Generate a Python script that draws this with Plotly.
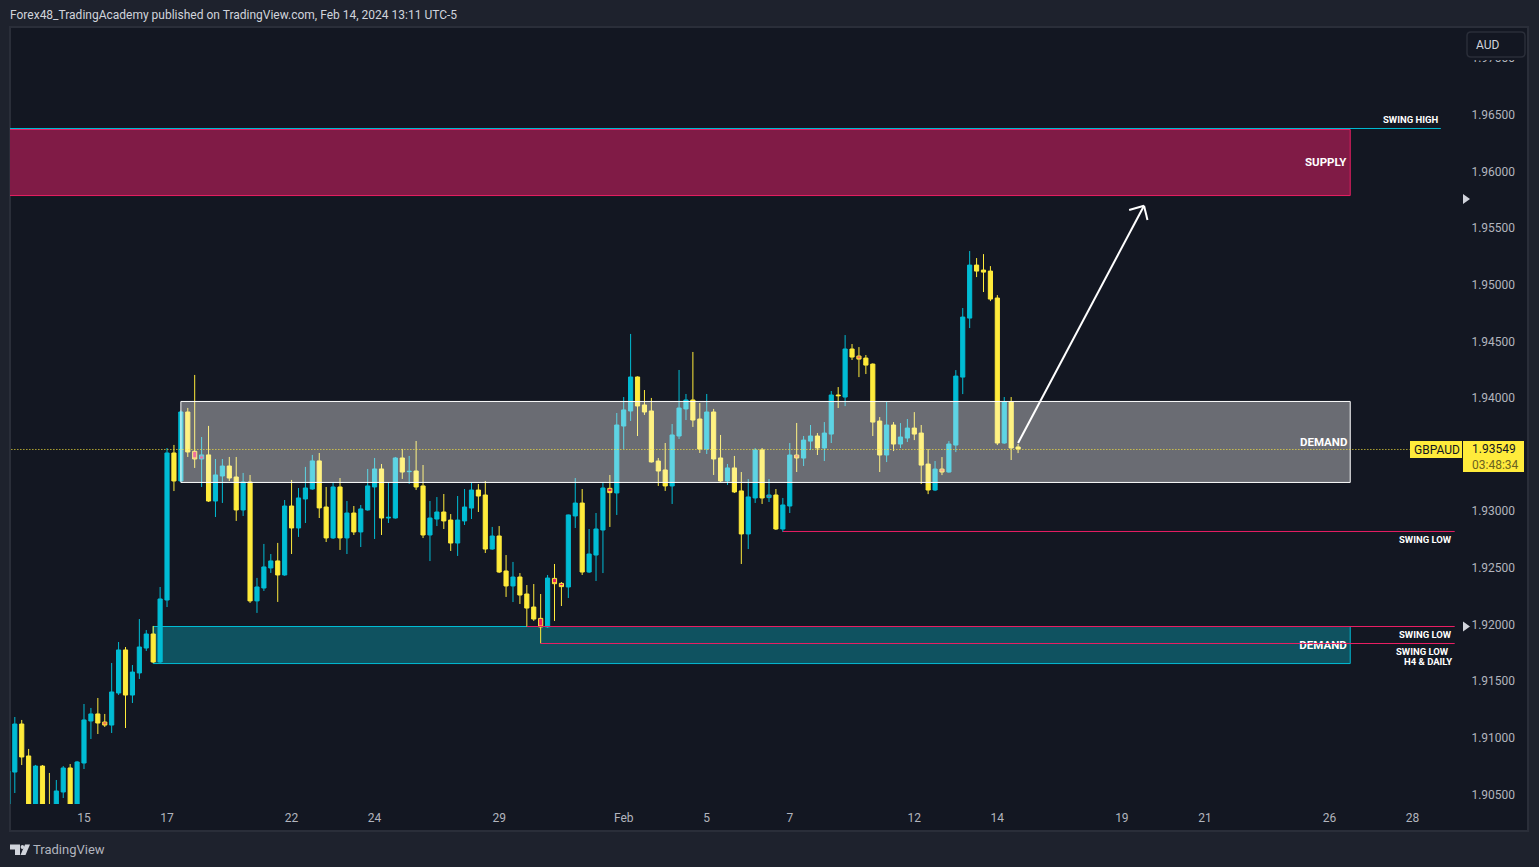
import plotly.graph_objects as go

# Prices in points (1e-5)
opens = [190200,190697,191121,190839,190333,190750,190391,190333,190521,190733,
         190333,190777,191148,191210,191139,191112,191395,191775,191377,191572,
         191792,191916,191669,192216,193514,193267,193876,193529,193461,193497,
         193090,193311,193399,193302,193011,193258,192208,192322,192499,192561,
         192437,193046,192852,193108,193196,193444,193037,192764,193214,192764,
         192984,192817,193011,193214,193373,192940,192940,193470,193349,193355,
         193223,192790,192931,192993,192922,192719,192914,193028,193187,193143,
         192666,192781,192472,192340,192419,192269,192154,192054,191978,192407,
         192363,192331,192958,193072,192463,192613,192834,193202,193161,193752,
         193885,194185,193938,193885,193443,193364,193223,193664,193903,193982,
         193814,193549,193876,193470,193267,193382,193179,192799,193117,193541,
         193120,193143,192843,193046,193496,193469,193619,193664,193558,193681,
         194026,194008,194432,194370,194352,194299,193796,193496,193761,193593,
         193646,193734,193690,193416,193187,193372,193346,193584,194184,194705,
         195173,195129,195120,194882,193602,193964,193567]
highs = [190720,191183,191157,190901,190760,190759,190689,190627,190750,190768,
         190795,191298,191263,191351,191210,191660,191845,191801,191642,192048,
         191951,191987,192331,193558,193585,193890,193912,194203,193655,193753,
         193461,193461,193479,193479,193338,193320,192411,192711,192622,192720,
         193099,193276,193205,193391,193497,193514,193214,193258,193293,193090,
         193046,193055,193373,193470,193417,193258,193479,193550,193488,193620,
         193408,193090,193125,193152,192975,193134,193196,193255,193240,193267,
         192861,192869,192613,192552,192454,192348,192357,192269,192437,192534,
         192375,192970,193293,193196,192843,192984,193255,193320,193867,194008,
         194565,194190,194070,194000,193470,193602,193770,194247,194035,194406,
         193955,194035,193903,193673,193417,193488,193346,193284,193558,193558,
         193284,193196,193117,193602,193779,193664,193761,193690,193787,194061,
         194096,194555,194476,194449,194379,194305,193831,193964,193787,193778,
         193814,193875,193761,193549,193443,193478,193619,194246,194794,195297,
         195235,195270,195164,194908,194008,194008,193593]
lows = [190100,190512,190759,190300,190300,190300,190200,190300,190468,190300,
        190300,190724,190989,191033,191095,191042,191377,191086,191307,191519,
        191766,191660,191660,192154,193178,193260,193479,193382,193214,193082,
        192949,193073,193267,192914,192958,192190,192102,192296,192455,192199,
        192430,192622,192773,192896,193190,192940,192728,192755,192658,192622,
        192790,192684,193005,192755,192790,192896,192935,193285,193241,193188,
        192763,192560,192869,192843,192649,192605,192878,192931,192993,192631,
        192660,192454,192243,192198,192181,191981,192031,191833,191970,192031,
        192163,192234,192852,192437,192454,192384,192454,192861,192967,193549,
        193797,193664,193850,193430,193223,193179,193064,193638,193805,193744,
        193514,193505,193320,193258,193232,193161,192534,192666,193073,193064,
        193081,192834,192817,192984,193346,193399,193540,193496,193443,193602,
        193911,193928,194335,194184,194211,193664,193346,193434,193531,193558,
        193611,193628,193240,193151,193178,193319,193340,193522,194034,194617,
        195067,194935,194855,193584,193595,193452,193513]
closes = [190706,191121,190830,190333,190750,190333,190250,190530,190733,190333,
          190786,191157,191210,191130,191112,191404,191775,191377,191580,191801,
          191916,191669,192225,193514,193267,193876,193523,193461,193497,193090,
          193320,193399,193293,193011,193258,192208,192331,192508,192561,192437,
          193046,192852,193117,193205,193444,193029,192764,193214,192764,192984,
          192817,193020,193223,193373,192940,192946,193470,193346,193352,193214,
          192790,192940,192993,192914,192719,192922,193037,193187,193134,192666,
          192781,192463,192340,192419,192260,192145,192048,191978,192410,192360,
          192334,192967,193072,192463,192622,192843,193205,193164,193761,193894,
          194185,193929,193876,193435,193355,193223,193673,193911,193982,193805,
          193549,193876,193461,193267,193382,193170,192799,193126,193541,193117,
          193143,192843,193055,193496,193470,193628,193664,193558,193690,194026,
          194020,194432,194361,194343,194290,193787,193496,193761,193593,193655,
          193734,193681,193407,193187,193372,193346,193593,194193,194714,195173,
          195120,195111,194873,193602,193964,193558,193549]
pink_candles = [15,28,29,78,80,81,88,111,115,124,136]

tick_pos = [12,24,42,54,72,90,102,114,132,144,162,174,192,204]
tick_text = ["15","17","22","24","29","Feb","5","7","12","14","19","21","26","28"]
price_ticks = [1.905,1.91,1.915,1.92,1.925,1.93,1.94,1.945,1.95,1.955,1.96,1.965,1.97]

supply_zone = [1.95787, 1.96370]
grey_zone = [1.93254, 1.93969]
teal_zone = [1.91655, 1.91982]
zone_end = 195
last_price_line = 1.93545
swing_high = 1.96379
swing_low_levels = [1.91982, 1.91832, 1.92821]
swing_low_starts = [76, 78, 113]
arrow_x = [147.0, 165.2]
arrow_y = [1.93602, 1.95697]
arrow_barb_x = [163.05, 165.7]
arrow_barb_y = [1.95659, 1.95571]

CYAN, YELLOW, PINK = "#00bcd4", "#ffeb3b", "#e91e63"
PANEL, OUTER, EDGE = "#131722", "#1e222d", "#2a2e39"
W, H = 1539, 867
L, R, T, B = 10, 1463, 27, 804
FONT = "Roboto"

def fx(p): return (p - L) / (R - L)
def fy(p): return (B - p) / (B - T)

n = range(1, len(opens) + 1)
plain = [i for i in n if i not in pink_candles]
def col(src, idx): return [src[i - 1] / 1e5 for i in idx]

fig = go.Figure()
fig.add_trace(go.Candlestick(
    x=plain, open=col(opens, plain), high=col(highs, plain), low=col(lows, plain), close=col(closes, plain),
    increasing=dict(line=dict(color=CYAN, width=1), fillcolor=CYAN),
    decreasing=dict(line=dict(color=YELLOW, width=1), fillcolor=YELLOW), showlegend=False))
fig.add_trace(go.Candlestick(
    x=pink_candles, open=col(opens, pink_candles), high=col(highs, pink_candles), low=col(lows, pink_candles), close=col(closes, pink_candles),
    increasing=dict(line=dict(color=CYAN, width=1), fillcolor=PINK),
    decreasing=dict(line=dict(color=YELLOW, width=1), fillcolor=PINK), showlegend=False))
# second DEMAND label sits under the swing-low line
fig.add_trace(go.Scatter(x=[194.5], y=[1.91811], mode="text", text=["<b>DEMAND</b>"], textposition="middle left",
                         textfont=dict(family=FONT, size=11.5, color="#ffffff"), showlegend=False, hoverinfo="skip"))

shapes = []
def paper_rect(x0, y0, x1, y1, fill, line=None, layer="below", width=1):
    shapes.append(dict(type="rect", xref="paper", yref="paper", x0=fx(x0), x1=fx(x1), y0=fy(y1), y1=fy(y0),
                       fillcolor=fill, line=dict(color=line or fill, width=width if line else 0), layer=layer))

# frame
paper_rect(10, 27, 1528, 831, PANEL, EDGE, width=2)

# zones
shapes.append(dict(type="rect", x0=22, x1=zone_end, y0=teal_zone[0], y1=teal_zone[1], fillcolor="#0f5260",
                   line=dict(color=CYAN, width=1), layer="below"))
shapes.append(dict(type="rect", x0=-5, x1=zone_end, y0=supply_zone[0], y1=supply_zone[1], fillcolor="#801b46",
                   line=dict(color=PINK, width=1), layer="below"))
shapes.append(dict(type="rect", x0=26, x1=zone_end, y0=grey_zone[0], y1=grey_zone[1], fillcolor="rgba(255,255,255,0.37)",
                   line=dict(color="#ffffff", width=1), layer="above"))

# levels
shapes.append(dict(type="line", x0=-5, x1=208.1, y0=swing_high, y1=swing_high, line=dict(color=CYAN, width=1), layer="above"))
for lvl, st in zip(swing_low_levels, swing_low_starts):
    shapes.append(dict(type="line", x0=st, x1=210.1, y0=lvl, y1=lvl, line=dict(color=PINK, width=1), layer="above"))
shapes.append(dict(type="line", x0=-5, x1=203.6, y0=last_price_line, y1=last_price_line,
                   line=dict(color=YELLOW, width=1, dash="1px,2px"), layer="above"))

# arrow
shapes.append(dict(type="line", x0=arrow_x[0], x1=arrow_x[1], y0=arrow_y[0], y1=arrow_y[1],
                   line=dict(color="#ffffff", width=2), layer="above"))
for bx, by in zip(arrow_barb_x, arrow_barb_y):
    shapes.append(dict(type="line", x0=bx, x1=arrow_x[1], y0=by, y1=arrow_y[1], line=dict(color="#ffffff", width=2), layer="above"))

# price labels and button
paper_rect(1410, 441, 1462, 458, YELLOW, layer="above")
paper_rect(1463, 441, 1524, 472, YELLOW, layer="above")
paper_rect(1464, 28, 1527, 60, PANEL, layer="above")
r = 4
bx0, bx1, by0, by1 = 1467, 1525, 32, 57
shapes.append(dict(type="path", xref="paper", yref="paper",
    path=(f"M{fx(bx0+r)},{fy(by0)} L{fx(bx1-r)},{fy(by0)} Q{fx(bx1)},{fy(by0)} {fx(bx1)},{fy(by0+r)} "
          f"L{fx(bx1)},{fy(by1-r)} Q{fx(bx1)},{fy(by1)} {fx(bx1-r)},{fy(by1)} "
          f"L{fx(bx0+r)},{fy(by1)} Q{fx(bx0)},{fy(by1)} {fx(bx0)},{fy(by1-r)} "
          f"L{fx(bx0)},{fy(by0+r)} Q{fx(bx0)},{fy(by0)} {fx(bx0+r)},{fy(by0)} Z"),
    fillcolor=PANEL, line=dict(color=EDGE, width=1.5), layer="above"))

# price-axis triangles
for cy in (199, 626.5):
    shapes.append(dict(type="path", xref="paper", yref="paper",
                       path=f"M{fx(1463)},{fy(cy-5)} L{fx(1470)},{fy(cy)} L{fx(1463)},{fy(cy+5)} Z",
                       fillcolor="#d1d4dc", line=dict(width=0), layer="above"))

# logo
shapes.append(dict(type="path", xref="paper", yref="paper",
                   path=f"M{fx(10)},{fy(844.5)} L{fx(20)},{fy(844.5)} L{fx(20)},{fy(855)} L{fx(15)},{fy(855)} L{fx(15)},{fy(849.5)} L{fx(10)},{fy(849.5)} Z",
                   fillcolor="#d1d4dc", line=dict(width=0), layer="above"))
shapes.append(dict(type="circle", xref="paper", yref="paper", x0=fx(20.6), x1=fx(24.2), y0=fy(849), y1=fy(845),
                   fillcolor="#d1d4dc", line=dict(width=0), layer="above"))
shapes.append(dict(type="path", xref="paper", yref="paper",
                   path=f"M{fx(25)},{fy(844.5)} L{fx(30)},{fy(844.5)} L{fx(25.5)},{fy(855)} L{fx(20.5)},{fy(855)} Z",
                   fillcolor="#d1d4dc", line=dict(width=0), layer="above"))

anns = []
def label(text, x, y, size=10, color="#ffffff", anchor="right", bold=True):
    anns.append(dict(text=f"<b>{text}</b>" if bold else text, xref="paper", yref="paper", x=fx(x), y=fy(y),
                     xanchor=anchor, yanchor="middle", showarrow=False, align="left" if anchor == "left" else "right",
                     font=dict(family=FONT, size=size, color=color), borderpad=0, borderwidth=0))

label("SUPPLY", 1346.5, 161.5, 11.5)
label("DEMAND", 1346.5, 441.5, 11.5)
label("SWING HIGH", 1437.5, 119.5, 9.5)
label("SWING LOW", 1451.5, 539, 9.5)
label("SWING LOW", 1451.5, 634.5, 9.5)
label("SWING LOW", 1448.5, 651.5, 9.5)
label("H4 &amp; DAILY", 1451.5, 661.5, 9.5)
label("AUD", 1476, 45, 12, "#d1d4dc", "left", False)
label("GBPAUD", 1414, 449.5, 12, "#131722", "left", False)
label("1.93549<br><span style='color:#6b6220'>03:48:34</span>", 1472, 456.5, 12, "#131722", "left", False)
label("Forex48_TradingAcademy published on TradingView.com, Feb 14, 2024 13:11 UTC-5", 10, 14.5, 12, "#d1d4dc", "left", False)
label("TradingView", 33, 849.5, 13, "#b2b5be", "left", False)

fig.update_layout(
    width=W, height=H, autosize=False,
    margin=dict(l=L, r=W - R, t=T, b=H - B, pad=0),
    paper_bgcolor=OUTER, plot_bgcolor=PANEL,
    font=dict(family=FONT, size=12, color="#b2b5be"),
    boxgap=0.4, boxgroupgap=0, showlegend=False, shapes=shapes, annotations=anns,
    xaxis=dict(range=[1.306, 211.3], tickmode="array", tickvals=tick_pos, ticktext=tick_text,
               showgrid=False, zeroline=False, showline=False, rangeslider=dict(visible=False),
               ticks="outside", ticklen=3, tickcolor="rgba(0,0,0,0)", tickangle=0,
               tickfont=dict(family=FONT, size=12, color="#b2b5be"), automargin=False),
    yaxis=dict(side="right", range=[1.90415, 1.97275], tickmode="array", tickvals=price_ticks,
               ticktext=[f"{v:.5f}" for v in price_ticks],
               showgrid=False, zeroline=False, showline=False,
               ticks="outside", ticklen=5, tickcolor="rgba(0,0,0,0)",
               tickfont=dict(family=FONT, size=12, color="#b2b5be"), automargin=False),
)

fig.write_html("out.html", config=dict(displayModeBar=False),
               post_script="document.body.style.margin='0';document.body.style.background='#1e222d';")
